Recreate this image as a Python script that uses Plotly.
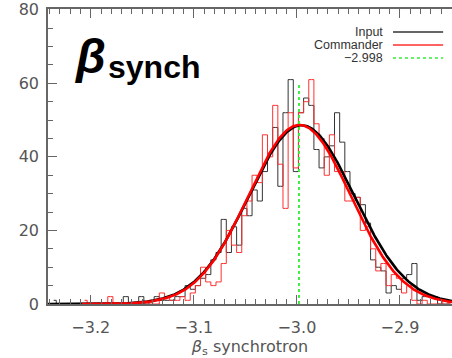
import numpy as np
import plotly.graph_objects as go

# histogram binning (counts per bin of width 0.005)
bin_start = -3.2385
bin_width = 0.005

input_counts = [1, 0, 0, 0, 0, 0, 0, 0, 0, 0,
                0, 0, 0, 0, 2, 0, 0, 2, 0, 1,
                2, 1, 1, 1, 2, 2, 5, 4, 5, 7,
                8, 12, 14, 23, 14, 21, 16, 26, 24, 31,
                28, 36, 41, 48, 32, 52, 61, 36, 52, 56,
                54, 42, 37, 40, 43, 52, 44, 36, 30, 29,
                27, 22, 12, 10, 9, 3, 5, 4, 7, 8,
                11, 1, 2, 2, 2, 0, 0, 0]

commander_counts = [None, None, None, None, None, None, 1, 0, 0, 0,
                    0, 2, 0, 0, 0, 0, 0, 0, 0, 0,
                    0, 3, 2, 1, 1, 2, 1, 3, 5, 10,
                    6, 5, 6, 11, 20, 16, 14, 24, 28, 35,
                    33, 46, 40, 54, 38, 26, 52, 37, 52, 55,
                    61, 49, 45, 35, 46, 36, 36, 28, 28, 29,
                    20, 21, 15, 9, 11, 5, 8, 7, 3, 5,
                    1, 0, 1, 0, 0, 0, 1, 0]

# gaussian fits: amplitude, mean, sigma, x-range
input_fit = dict(amp=48.6, mu=-2.9955, sigma=0.0510, lo=-3.2415, hi=-2.8495)
commander_fit = dict(amp=48.7, mu=-2.9975, sigma=0.0495, lo=-3.2087, hi=-2.8495)

mean_value = -2.998
mean_height = 60

x_range = [-3.2415, -2.8495]
y_range = [0, 80.2]

centers = bin_start + bin_width * (np.arange(len(input_counts)) + 0.5)


def gauss_curve(p):
    x = np.linspace(p['lo'], p['hi'], 400)
    y = p['amp'] * np.exp(-(x - p['mu']) ** 2 / (2 * p['sigma'] ** 2))
    return x, y


fig = go.Figure()

# histograms as steps
fig.add_trace(go.Scatter(x=centers, y=input_counts, mode='lines', line_shape='hvh',
                         line=dict(color='#333333', width=1), showlegend=False))
fig.add_trace(go.Scatter(x=centers, y=commander_counts, mode='lines', line_shape='hvh',
                         line=dict(color='#ff3030', width=1), showlegend=False))

# fits
fx, fy = gauss_curve(input_fit)
fig.add_trace(go.Scatter(x=fx, y=fy, mode='lines', line=dict(color='black', width=2.6),
                         showlegend=False))
fx, fy = gauss_curve(commander_fit)
fig.add_trace(go.Scatter(x=fx, y=fy, mode='lines', line=dict(color='#ff0000', width=2.6),
                         showlegend=False))

# mean marker (also attached to the top axis so it gets drawn)
fig.add_trace(go.Scatter(x=[mean_value, mean_value], y=[0, mean_height], mode='lines',
                         line=dict(color='#33ee33', width=1.5, dash='dot'), showlegend=False))
fig.add_trace(go.Scatter(x=[mean_value, mean_value], y=[0, mean_height], mode='lines',
                         xaxis='x2', line=dict(color='#33ee33', width=1.5, dash='dot'),
                         showlegend=False))

axis_col = '#666666'
tick_font = dict(family='DejaVu Sans', size=16, color='#555555')
minor_x = dict(ticks='inside', dtick=0.01, ticklen=5, tickwidth=1, tickcolor=axis_col)

fig.update_layout(
    xaxis=dict(range=x_range, showgrid=False, zeroline=False,
               showline=True, linecolor=axis_col, linewidth=1.5,
               ticks='inside', ticklen=9, tickwidth=1.2, tickcolor=axis_col,
               tick0=-3.0, dtick=0.1, tickformat='.1f', tickfont=tick_font,
               ticklabelstandoff=8, minor=minor_x,
               title=dict(text='<i>β</i><sub>s</sub> synchrotron', font=tick_font, standoff=6)),
    xaxis2=dict(range=x_range, overlaying='x', side='top', showgrid=False, zeroline=False,
                showline=True, linecolor=axis_col, linewidth=1.5,
                ticks='inside', ticklen=9, tickwidth=1.2, tickcolor=axis_col,
                tick0=-3.0, dtick=0.1, showticklabels=False, minor=minor_x),
    yaxis=dict(range=y_range, showgrid=False, zeroline=False,
               showline=True, linecolor=axis_col, linewidth=1.5,
               ticks='inside', ticklen=9, tickwidth=1.2, tickcolor=axis_col,
               tick0=0, dtick=20, tickfont=tick_font, ticklabelstandoff=4,
               minor=dict(ticks='inside', dtick=5, ticklen=5, tickwidth=1, tickcolor=axis_col)),
)

# big label
fig.add_annotation(text='<b><i>β</i></b>', xref='paper', yref='paper', x=0.06, y=0.935,
                   xanchor='left', yanchor='top', showarrow=False,
                   font=dict(family='Liberation Sans', size=48, color='black'))
fig.add_annotation(text='<b>synch</b>', xref='paper', yref='paper', x=0.143, y=0.87,
                   xanchor='left', yanchor='top', showarrow=False,
                   font=dict(family='Liberation Sans', size=32, color='black'))

# legend (text left of the line sample)
legend_items = [('Input', '#333333', 'solid'), ('Commander', '#ff3030', 'solid'),
                ('\u22122.998', '#33ee33', 'dot')]
for i, (name, col, dash) in enumerate(legend_items):
    yy = 0.922 - i * 0.044
    fig.add_annotation(text=name, xref='paper', yref='paper', x=0.834, y=yy,
                       xanchor='right', yanchor='middle', showarrow=False,
                       font=dict(family='Liberation Sans', size=12.5, color='#333333'))
    fig.add_shape(type='line', xref='paper', yref='paper', x0=0.854, x1=0.978, y0=yy, y1=yy,
                  line=dict(color=col, width=1.5, dash=dash))

fig.update_layout(width=452, height=358, margin=dict(l=48, r=0, t=9, b=54),
                  plot_bgcolor='white', paper_bgcolor='white', showlegend=False)

# drop the default page margin so the figure fills the window
fig.write_html("out.html", config={'displayModeBar': False},
               post_script="document.body.style.margin='0';")
